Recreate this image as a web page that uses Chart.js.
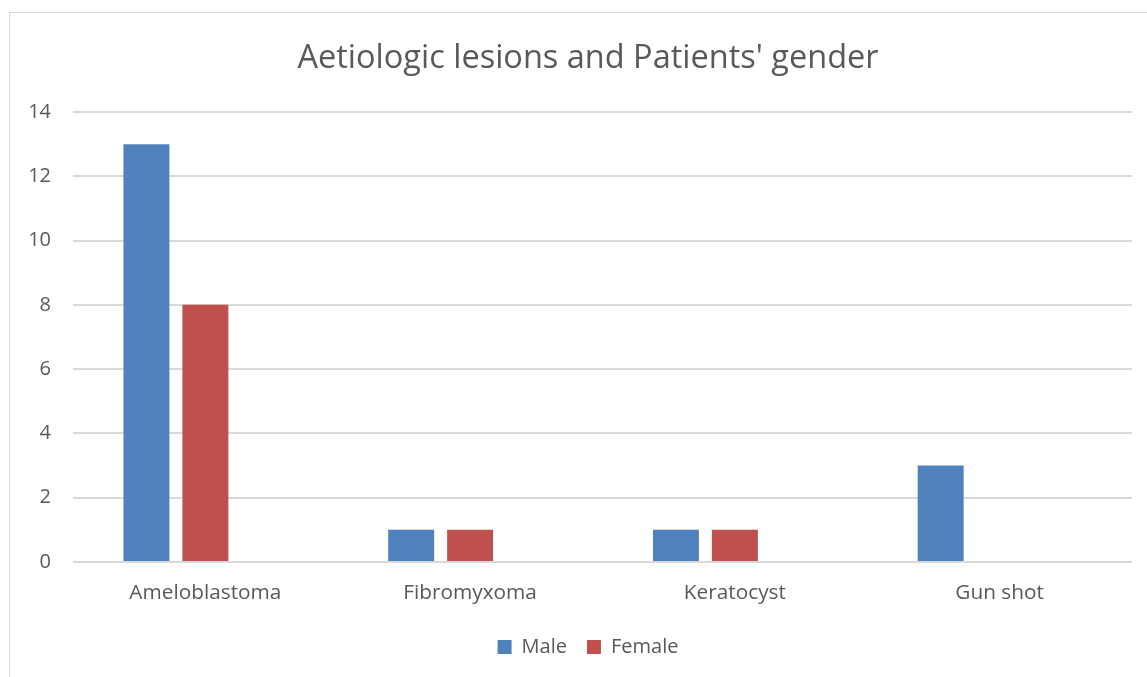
<!DOCTYPE html>
<html>
<head>
<meta charset="utf-8">
<script src="https://cdn.jsdelivr.net/npm/chart.js@4/dist/chart.umd.min.js"></script>
<style>
  html, body { margin: 0; padding: 0; background: #fff; overflow: hidden; width: 1147px; height: 677px; }
  #wrap { position: absolute; left: 9px; top: 12px; width: 1156px; height: 688px; border: 1px solid #d9d9d9; box-sizing: border-box; }
  canvas { display: block; }
</style>
</head>
<body>
<div id="wrap"><canvas id="c" width="1154" height="686"></canvas></div>
<script>
const categories = ["Ameloblastoma", "Fibromyxoma", "Keratocyst", "Gun shot"];
const maleValues = [13, 1, 1, 3];
const femaleValues = [8, 1, 1, null];
const emptyValues = [null, null, null, null];
const yTicks = [0, 2, 4, 6, 8, 10, 12, 14];
const titleText = "Aetiologic lesions and Patients' gender";

const FONT = "'Open Sans', sans-serif";
const TXT = "#595959";
const TITLE_SIZE = 32.5;
const CENTER_SHIFT = 34;

// Centre title and legend on the whole chart box (as Excel does), not the area right of the y axis
const centerBlocks = {
  id: 'centerBlocks',
  afterLayout(chart) {
    if (chart.titleBlock) chart.titleBlock.left += CENTER_SHIFT;
    if (chart.legend) chart.legend.left += CENTER_SHIFT;
  }
};

new Chart(document.getElementById('c'), {
  type: 'bar',
  data: {
    labels: categories,
    datasets: [
      { label: 'Male', data: maleValues, backgroundColor: '#4F81BD', categoryPercentage: 0.668, barPercentage: 0.78 },
      { label: 'Female', data: femaleValues, backgroundColor: '#C0504D', categoryPercentage: 0.668, barPercentage: 0.78 },
      { label: '', data: emptyValues, backgroundColor: 'rgba(0,0,0,0)', categoryPercentage: 0.668, barPercentage: 0.78 }
    ]
  },
  plugins: [centerBlocks],
  options: {
    responsive: false,
    animation: false,
    devicePixelRatio: 1,
    layout: { padding: { left: 0, right: 32, top: 0, bottom: 32 } },
    plugins: {
      title: {
        display: true, text: titleText, color: TXT,
        font: { family: FONT, size: TITLE_SIZE, weight: 'normal', lineHeight: 1.2 },
        padding: { top: 46 - 0.6 * TITLE_SIZE, bottom: 99 - 46 - 0.6 * TITLE_SIZE }
      },
      legend: {
        position: 'bottom',
        labels: {
          color: TXT, font: { family: FONT, size: 20 },
          boxWidth: 14, boxHeight: 14, padding: 20,
          filter: (item) => item.text !== ''
        }
      },
      tooltip: { enabled: false }
    },
    scales: {
      x: {
        grid: { display: false, drawTicks: false },
        border: { display: false },
        afterFit: (s) => { s.height = 55; },
        ticks: { color: TXT, font: { family: FONT, size: 20.8 }, padding: 19 }
      },
      y: {
        min: 0, max: 14,
        afterBuildTicks: (s) => { s.ticks = yTicks.map(v => ({ value: v })); },
        afterFit: (s) => { s.width = 63; },
        grid: { color: '#D9D9D9', lineWidth: 2, drawTicks: false },
        border: { display: false },
        ticks: { color: TXT, font: { family: FONT, size: 20 }, padding: 22 }
      }
    }
  }
});
</script>
</body>
</html>
